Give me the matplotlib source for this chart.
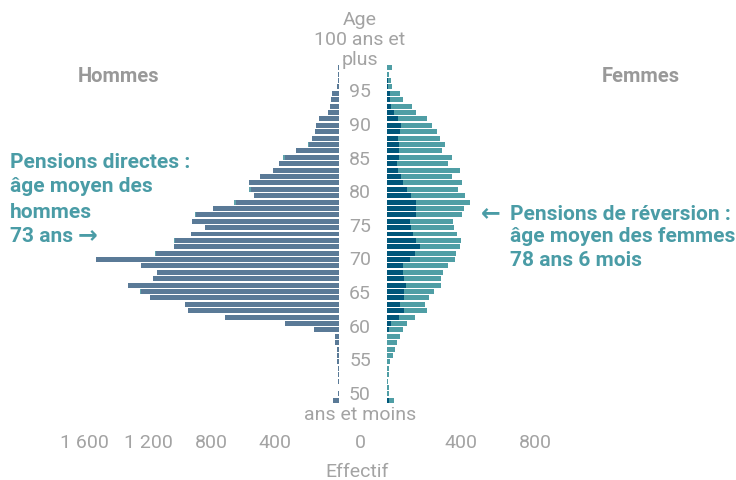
import matplotlib
matplotlib.use("Agg")
import matplotlib.pyplot as plt

# ---------------- data (top of pyramid first, i.e. oldest -> youngest) ----------------
ages_desc = list(range(100, 47, -1))
men_direct = [4, 4, 4, 11, 42, 50, 58, 67, 124, 145, 153, 168, 187, 269, 342, 375, 413, 495,
              564, 555, 533, 650, 792, 901, 923, 843, 931, 1031, 1036, 1151, 1528, 1245, 1143,
              1170, 1325, 1247, 1189, 969, 950, 717, 340, 157, 25, 25, 13, 13, 13, 8, 8, 6, 0, 4, 38]
men_reversion = [0, 0, 0, 0, 0, 0, 0, 0, 0, 0, 0, 0, 8, 0, 11, 0, 0, 0,
                 0, 14, 4, 11, 0, 4, 0, 0, 0, 6, 0, 6, 0, 0, 0,
                 0, 4, 6, 0, 0, 0, 0, 0, 0, 0, 0, 0, 0, 0, 0, 0, 0, 0, 0, 0]
women_direct = [0, 0, 5, 5, 18, 18, 23, 39, 61, 77, 72, 61, 66, 66, 66, 56, 61, 77,
                88, 110, 131, 158, 158, 158, 126, 131, 142, 158, 180, 153, 126, 88, 86,
                94, 104, 94, 94, 72, 94, 66, 23, 12, 0, 0, 0, 0, 0, 0, 0, 0, 0, 0, 12]
women_reversion = [29, 12, 18, 24, 54, 70, 114, 119, 157, 168, 200, 227, 249, 233, 287, 275, 335, 276,
                   319, 275, 292, 292, 260, 249, 232, 233, 238, 244, 216, 222, 243, 243, 218,
                   200, 190, 162, 135, 135, 124, 87, 87, 76, 72, 56, 45, 34, 18, 12, 12, 5, 12, 12, 27]

age_labels = [95, 90, 85, 80, 75, 70, 65, 60, 55, 50]
left_ticks = [1600, 1200, 800, 400]
left_tick_labels = ["1 600", "1 200", "800", "400"]
right_ticks = [400, 800]
right_tick_labels = ["400", "800"]

# ---------------- style ----------------
C_MEN = "#5a7a97"
C_MEN_REV = "#5fa3ab"
C_W_DIR = "#00567a"
C_W_REV = "#4f9ea5"
C_GRAY = "#a3a3a3"
C_HEAD = "#999999"
C_TEAL = "#4a9ca6"
FONT = ["Roboto", "DejaVu Sans"]
plt.rcParams["font.family"] = FONT

W, H = 736, 480
fig = plt.figure(figsize=(W / 100, H / 100), dpi=100)


def box(x0, y0, x1, y1):
    return [x0 / W, 1 - y1 / H, (x1 - x0) / W, (y1 - y0) / H]


def ftext(x, y, s, **kw):
    fig.text(x / W, 1 - y / H, s, **kw)


ax_l = fig.add_axes(box(10, 55, 339, 410))
ax_r = fig.add_axes(box(387, 55, 726, 410))

bar_h = 0.78
ax_l.barh(ages_desc, men_direct, height=bar_h, color=C_MEN, linewidth=0)
ax_l.barh(ages_desc, men_reversion, left=men_direct, height=bar_h, color=C_MEN_REV, linewidth=0)
ax_r.barh(ages_desc, women_direct, height=bar_h, color=C_W_DIR, linewidth=0)
ax_r.barh(ages_desc, women_reversion, left=women_direct, height=bar_h, color=C_W_REV, linewidth=0)

ax_l.set_xlim(329 / 0.159, 0)
ax_r.set_xlim(0, 339 / 0.185)
for ax in (ax_l, ax_r):
    ax.set_ylim(46.48, 101.99)
    for sp in ax.spines.values():
        sp.set_visible(False)
    ax.set_yticks([])
    ax.tick_params(axis="x", length=0, pad=17, labelsize=14, labelcolor=C_GRAY)
    ax.patch.set_alpha(0)

ax_l.set_xticks(left_ticks)
ax_l.set_xticklabels(left_tick_labels)
ax_r.set_xticks(right_ticks)
ax_r.set_xticklabels(right_tick_labels)

# central age labels
lab_kw = dict(ha="center", va="center", fontsize=14, color=C_GRAY)
ftext(360, 20, "Age", **lab_kw)
ftext(360, 40, "100 ans et", **lab_kw)
ftext(360, 60, "plus", **lab_kw)
for a in age_labels:
    ftext(360, 395 - (a - 50) * 6.727, str(a), **lab_kw)
ftext(360, 415, "ans et moins", **lab_kw)
ftext(360, 443, "0", **lab_kw)
ftext(357, 472, "Effectif", **lab_kw)

# headers
ftext(119, 76, "Hommes", ha="center", va="center", fontsize=14.5, fontweight="bold", color=C_HEAD)
ftext(641, 76, "Femmes", ha="center", va="center", fontsize=14.5, fontweight="bold", color=C_HEAD)

# annotations
ann_kw = dict(ha="left", va="center", fontsize=15, fontweight="bold", color=C_TEAL)
arrow_kw = dict(ha="center", va="center", fontsize=17, fontweight="bold", color=C_TEAL,
                family=["DejaVu Sans"])
ftext(10, 162, "Pensions directes :", **ann_kw)
ftext(10, 187, "âge moyen des", **ann_kw)
ftext(10, 212, "hommes", **ann_kw)
ftext(10, 236, "73 ans", **ann_kw)
ftext(88, 235, "\u2192", **arrow_kw)

ftext(491, 213, "\u2190", **arrow_kw)
ftext(510, 214, "Pensions de réversion :", **ann_kw)
ftext(510, 237, "âge moyen des femmes", **ann_kw)
ftext(510, 260, "78 ans 6 mois", **ann_kw)

fig.savefig("out.png", dpi=100)
